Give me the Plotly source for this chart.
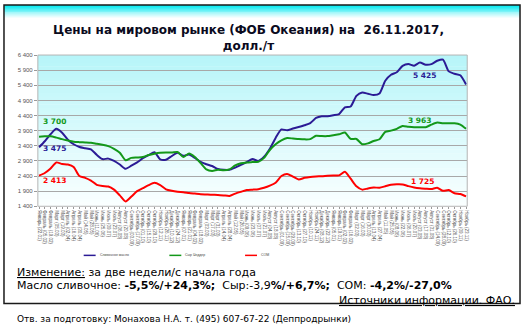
import plotly.graph_objects as go

W, H = 526, 333

labels = ["Январь (22.01)", "Февраль (05.02)", "Февраль (19.02)", "Март (05.03)", "Март (19.03)",
          "Апрель (02.04)", "Апрель (16.04)", "Апрель (30.04)", "Май (14.05)", "Май (28.05)",
          "Июнь (11.06)", "Июнь (25.06)", "Июль (09.07)", "Июль (23.07)", "Август (06.08)",
          "Август (20.08)", "Сентябрь (03.09)", "Сентябрь (17.09)", "Октябрь (01.10)", "Октябрь (15.10)",
          "Октябрь (29.10)", "Ноябрь (12.11)", "Ноябрь (26.11)", "Декабрь (10.12)", "Декабрь (24.12)",
          "Январь (07.01)", "Январь (21.01)", "Февраль (04.02)", "Февраль (18.02)", "Март (03.03)",
          "Март (17.03)", "Март (31.03)", "Апрель (14.04)", "Апрель (28.04)", "Май (12.05)",
          "Май (26.05)", "Июнь (09.06)", "Июнь (23.06)", "Июль (07.07)", "Июль (21.07)",
          "Август (04.08)", "Август (18.08)", "Сентябрь (01.09)", "Сентябрь (15.09)", "Сентябрь (29.09)",
          "Октябрь (13.10)", "Октябрь (27.10)", "Ноябрь (10.11)", "Ноябрь (24.11)", "Декабрь (08.12)",
          "Декабрь (22.12)", "Январь (05.01)", "Январь (19.01)", "Февраль (02.02)", "Февраль (16.02)",
          "Март (02.03)", "Март (16.03)", "Март (30.03)", "Апрель (13.04)", "Апрель (27.04)",
          "Май (11.05)", "Май (25.05)", "Июнь (08.06)", "Июнь (22.06)", "Июль (06.07)",
          "Июль (20.07)", "Август (03.08)", "Август (17.08)", "Август (31.08)", "Сентябрь (14.09)",
          "Сентябрь (28.09)", "Октябрь (12.10)", "Октябрь (26.10)", "Ноябрь (09.11)", "Ноябрь (23.11)"]

butter = [3350, 3550, 3780, 3960, 3830, 3600, 3450, 3360, 3320, 3282,
          3100, 2960, 2975, 2900, 2780, 2640, 2740, 2850, 2990, 3090,
          3190, 2950, 2940, 3060, 3170, 3070, 3110, 3000, 2870, 2790,
          2730, 2630, 2605, 2605, 2680, 2770, 2860, 2960, 2900, 3040,
          3300, 3660, 3940, 3910, 3970, 4020, 4080, 4150, 4320, 4378,
          4378, 4410, 4450, 4670, 4700, 5050, 5160, 5120, 5080, 5130,
          5550, 5750, 5830, 6040, 6100, 6050, 6150, 6080, 6100, 6210,
          6250, 5860, 5780, 5730, 5425]

cheese = [3700, 3712, 3712, 3670, 3620, 3575, 3535, 3520, 3510, 3497,
          3465, 3435, 3390, 3300, 3170, 2920, 3000, 3013, 3030, 3095,
          3140, 3170, 3175, 3175, 3196, 3030, 3142, 3030, 2830, 2620,
          2570, 2605, 2590, 2620, 2750, 2820, 2850, 2860, 2870, 3000,
          3260, 3450, 3580, 3655, 3640, 3622, 3612, 3620, 3733, 3720,
          3720, 3750, 3780, 3840, 3626, 3626, 3450, 3480, 3560, 3615,
          3860, 3900, 3960, 4056, 4030, 4013, 4013, 4013, 4100, 4170,
          4145, 4142, 4142, 4100, 3963]

smp = [2413, 2500, 2650, 2850, 2800, 2780, 2700, 2400, 2340, 2250,
       2110, 2070, 2055, 1950, 1760, 1560, 1720, 1900, 2000, 2100,
       2175, 2100, 1960, 1910, 1880, 1865, 1840, 1820, 1800, 1790,
       1780, 1776, 1760, 1740, 1820, 1880, 1937, 1950, 1965, 2010,
       2080, 2180, 2400, 2470, 2380, 2285, 2340, 2370, 2385, 2392,
       2410, 2421, 2421, 2540, 2310, 2060, 1950, 1990, 2020, 2013,
       2060, 2110, 2125, 2120, 2065, 2020, 1993, 1980, 1970, 2013,
       1910, 1937, 1830, 1805, 1725]

series_names = ["Сливочное масло", "Сыр Чеддер", "СОМ"]
first_labels = ["3 475", "3 700", "2 413"]
last_labels = ["5 425", "3 963", "1 725"]
y_ticks = [1400, 1900, 2400, 2900, 3400, 3900, 4400, 4900, 5400, 5900, 6400]

colors = ["#2b1b95", "#13981a", "#ff0000"]
x = list(range(len(labels)))


def px(v):
    return v / W


def py(v):
    return 1 - v / H


def mix(c1, c2, t):
    return "rgb(%d,%d,%d)" % tuple(round(a + (b - a) * t) for a, b in zip(c1, c2))


PL, PR, PT, PB = 37, 468, 53, 207

fig = go.Figure()
for name, vals, col in zip(series_names, [butter, cheese, smp], colors):
    fig.add_trace(go.Scatter(x=x, y=vals, mode="lines", name=name,
                             line=dict(color=col, width=2, shape="spline", smoothing=0.6),
                             showlegend=False, hoverinfo="skip"))

shapes = []
# outer frame top cyan gradient
n = 14
for i in range(n):
    y0 = 2 + i * 1.0
    shapes.append(dict(type="rect", xref="paper", yref="paper", layer="below",
                       x0=px(3), x1=px(521), y0=py(y0), y1=py(y0 + 1.05),
                       fillcolor=mix((0, 232, 240), (255, 255, 255), i / (n - 1)), line_width=0))
# plot area gradient
n = 40
for i in range(n):
    y0 = PT + (PB - PT) * i / n
    y1 = PT + (PB - PT) * (i + 1) / n + 0.3
    shapes.append(dict(type="rect", xref="paper", yref="paper", layer="below",
                       x0=px(PL), x1=px(PR), y0=py(y0), y1=py(y1),
                       fillcolor=mix((183, 245, 249), (250, 255, 255), i / (n - 1)), line_width=0))
# plot border
shapes.append(dict(type="rect", xref="paper", yref="paper", layer="above",
                   x0=px(PL), x1=px(PR), y0=py(PB), y1=py(PT),
                   line=dict(color="#b4b4b4", width=1), fillcolor="rgba(0,0,0,0)"))
# outer frame
shapes.append(dict(type="rect", xref="paper", yref="paper", layer="above",
                   x0=px(3), x1=px(521), y0=py(306), y1=py(2),
                   line=dict(color="#1a1a1a", width=1.5), fillcolor="rgba(0,0,0,0)"))

annotations = []
# title
annotations.append(dict(xref="paper", yref="paper", x=px(248), y=py(36), xanchor="center", yanchor="middle",
                        text="<b>Цены на мировом рынке (ФОБ Океания) на \u00a026.11.2017,<br>долл./т</b>",
                        showarrow=False, align="center",
                        font=dict(family="DejaVu Sans", size=12, color="#0a0a20")))
# legend (manual)
leg_pos = [(83, 95), (169, 181), (245, 257)]
for (a, b), name, col in zip(leg_pos, series_names, colors):
    shapes.append(dict(type="line", xref="paper", yref="paper", x0=px(a), x1=px(b), y0=py(257), y1=py(257),
                       line=dict(color=col, width=1.5)))
    annotations.append(dict(xref="paper", yref="paper", x=px(b + 2), y=py(257), xanchor="left", yanchor="middle",
                            text=name, showarrow=False,
                            font=dict(family="Liberation Sans", size=3.5, color="#444")))
# data labels
first_pos = [(40, 148), (40, 121), (40, 181)]
last_pos = [(412, 74), (407, 120), (410, 182)]
for (fx, fy), txt, col in zip(first_pos, first_labels, colors):
    annotations.append(dict(xref="paper", yref="paper", x=px(fx), y=py(fy), xanchor="left", yanchor="middle",
                            text="<b>%s</b>" % txt, showarrow=False,
                            font=dict(family="DejaVu Sans", size=7.5, color=col)))
for (fx, fy), txt, col in zip(last_pos, last_labels, colors):
    annotations.append(dict(xref="paper", yref="paper", x=px(fx), y=py(fy), xanchor="left", yanchor="middle",
                            text="<b>%s</b>" % txt, showarrow=False,
                            font=dict(family="DejaVu Sans", size=7.5, color=col)))
# change text
annotations.append(dict(xref="paper", yref="paper", x=px(14), y=py(274), xanchor="left", yanchor="middle",
                        text="<u>Изменение:</u> за две недели/с начала года", showarrow=False,
                        font=dict(family="DejaVu Sans", size=11, color="#000")))
annotations.append(dict(xref="paper", yref="paper", x=px(14), y=py(288), xanchor="left", yanchor="middle",
                        text="Масло сливочное: <b>-5,5%/+24,3%;</b>\u00a0 Сыр:-3,9<b>%/+6,7%;</b>\u00a0 СОМ: <b>-4,2%/-27,0%</b>",
                        showarrow=False, font=dict(family="DejaVu Sans", size=11, color="#000")))
annotations.append(dict(xref="paper", yref="paper", x=px(518), y=py(303), xanchor="right", yanchor="middle",
                        text="<u>Источники информации. ФАО.</u>", showarrow=False,
                        font=dict(family="DejaVu Sans", size=11, color="#000")))
annotations.append(dict(xref="paper", yref="paper", x=px(14), y=py(322), xanchor="left", yanchor="middle",
                        text="Отв. за подготовку: Монахова Н.А. т. (495) 607-67-22 (Деппродрынки)", showarrow=False,
                        font=dict(family="DejaVu Sans", size=9, color="#000")))

fig.update_layout(
    width=W, height=H, margin=dict(l=0, r=0, t=0, b=0),
    paper_bgcolor="white", plot_bgcolor="rgba(0,0,0,0)",
    separators=", ",
    shapes=shapes, annotations=annotations, showlegend=False,
    xaxis=dict(domain=[px(PL), px(PR)], range=[-0.2, len(labels) - 0.8],
               tickmode="array", tickvals=x, ticktext=labels, tickangle=90,
               tickfont=dict(family="Liberation Sans", size=4.5, color="#555"),
               ticks="outside", ticklen=2, tickcolor="#999", showgrid=False,
               showline=False, zeroline=False),
    yaxis=dict(domain=[py(PB), py(PT)], range=[1400, 6400],
               tickmode="array", tickvals=y_ticks, tickformat=",d",
               tickfont=dict(family="Liberation Sans", size=6, color="#555"),
               ticks="outside", ticklen=3, tickcolor="#999",
               showgrid=True, gridcolor="#a8a8a8", gridwidth=1,
               showline=False, zeroline=False),
)

fig.write_html("out.html")
